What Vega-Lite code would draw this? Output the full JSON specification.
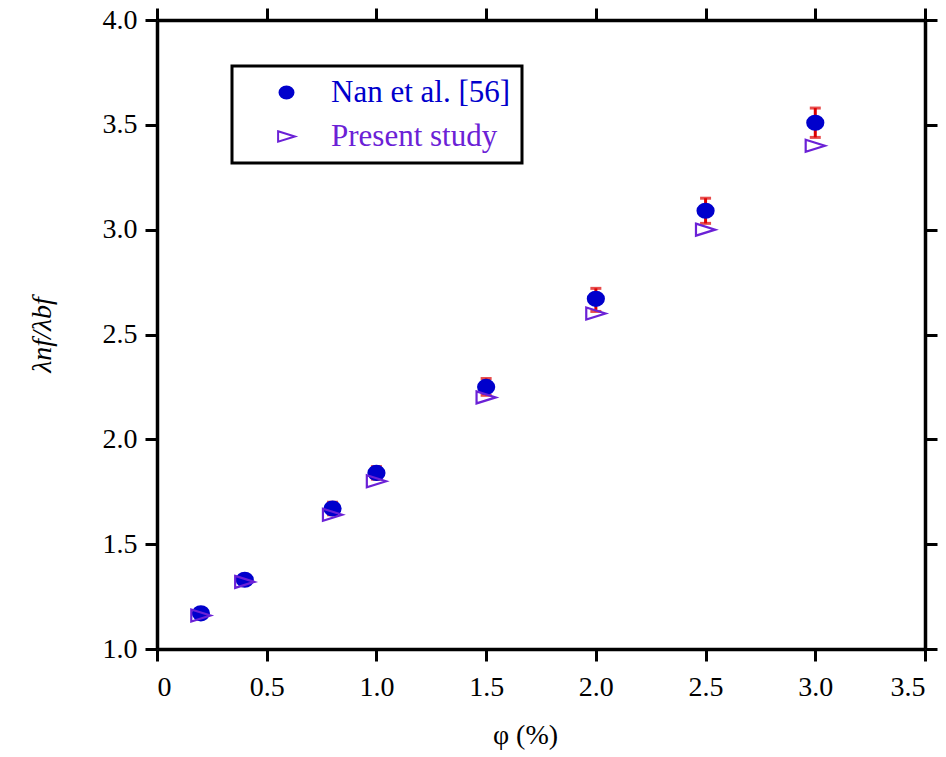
{
  "$schema": "https://vega.github.io/schema/vega-lite/v6.json",
  "autosize": {"type": "none"},
  "width": 768,
  "height": 629,
  "padding": {"left": 157, "top": 20, "right": 21, "bottom": 108},
  "background": "white",
  "data": {
    "values": [
      {"phi": 0.2, "value": 1.17, "lo": 1.15, "hi": 1.19, "series": "Nan et al. [56]"},
      {"phi": 0.4, "value": 1.33, "lo": 1.31, "hi": 1.35, "series": "Nan et al. [56]"},
      {"phi": 0.8, "value": 1.67, "lo": 1.64, "hi": 1.70, "series": "Nan et al. [56]"},
      {"phi": 1.0, "value": 1.84, "lo": 1.81, "hi": 1.87, "series": "Nan et al. [56]"},
      {"phi": 1.5, "value": 2.25, "lo": 2.21, "hi": 2.29, "series": "Nan et al. [56]"},
      {"phi": 2.0, "value": 2.67, "lo": 2.61, "hi": 2.72, "series": "Nan et al. [56]"},
      {"phi": 2.5, "value": 3.09, "lo": 3.03, "hi": 3.15, "series": "Nan et al. [56]"},
      {"phi": 3.0, "value": 3.51, "lo": 3.44, "hi": 3.58, "series": "Nan et al. [56]"},
      {"phi": 0.2, "value": 1.16, "series": "Present study"},
      {"phi": 0.4, "value": 1.32, "series": "Present study"},
      {"phi": 0.8, "value": 1.64, "series": "Present study"},
      {"phi": 1.0, "value": 1.80, "series": "Present study"},
      {"phi": 1.5, "value": 2.20, "series": "Present study"},
      {"phi": 2.0, "value": 2.60, "series": "Present study"},
      {"phi": 2.5, "value": 3.00, "series": "Present study"},
      {"phi": 3.0, "value": 3.40, "series": "Present study"}
    ]
  },
  "layer": [
    {
      "transform": [{"filter": "datum.series === 'Nan et al. [56]'"}],
      "mark": {"type": "rule", "color": "#dd0000", "strokeWidth": 3},
      "encoding": {
        "x": {"field": "phi", "type": "quantitative", "scale": {"domain": [0, 3.5], "nice": false, "zero": false},
              "axis": {"orient": "top", "labels": false, "title": null, "values": [0, 0.5, 1, 1.5, 2, 2.5, 3, 3.5]}},
        "y": {"field": "lo", "type": "quantitative", "scale": {"domain": [1, 4], "nice": false, "zero": false},
              "axis": {"orient": "right", "labels": false, "title": null, "values": [1, 1.5, 2, 2.5, 3, 3.5, 4]}},
        "y2": {"field": "hi"}
      }
    },
    {
      "transform": [{"filter": "datum.series === 'Nan et al. [56]'"}],
      "mark": {"type": "tick", "orient": "horizontal", "color": "#dd0000", "size": 11, "thickness": 3},
      "encoding": {
        "x": {"field": "phi", "type": "quantitative", "axis": null},
        "y": {"field": "lo", "type": "quantitative", "axis": null}
      }
    },
    {
      "transform": [{"filter": "datum.series === 'Nan et al. [56]'"}],
      "mark": {"type": "tick", "orient": "horizontal", "color": "#dd0000", "size": 11, "thickness": 3},
      "encoding": {
        "x": {"field": "phi", "type": "quantitative", "axis": null},
        "y": {"field": "hi", "type": "quantitative", "axis": null}
      }
    },
    {
      "mark": {"type": "point", "size": 256, "strokeWidth": 2.2, "opacity": 1, "filled": false},
      "encoding": {
        "x": {"field": "phi", "type": "quantitative",
              "axis": {"orient": "bottom", "title": "φ (%)", "values": [0, 0.5, 1, 1.5, 2, 2.5, 3, 3.5],
                       "labelExpr": "datum.value === 0 ? '0' : format(datum.value, '.1f')",
                       "labelPadding": 12, "titlePadding": 20, "titleX": 368}},
        "y": {"field": "value", "type": "quantitative",
              "axis": {"orient": "left", "title": "λnf/λbf", "values": [1, 1.5, 2, 2.5, 3, 3.5, 4],
                       "format": ".1f", "labelPadding": 8, "titlePadding": 46, "titleFontStyle": "italic"}},
        "shape": {"field": "series", "type": "nominal",
                  "scale": {"domain": ["Nan et al. [56]", "Present study"],
                            "range": ["M-1,0A1,0.87,0,1,0,1,0A1,0.87,0,1,0,-1,0Z", "M-1.2,-0.75L1.2,0L-1.2,0.75Z"]},
                  "legend": {
                    "title": null, "orient": "none", "legendX": 75, "legendY": 46,
                    "labelColor": {"expr": "datum.value === 'Nan et al. [56]' ? '#0000cc' : '#6b21d6'"}
                  }},
        "stroke": {"field": "series", "type": "nominal",
                   "scale": {"domain": ["Nan et al. [56]", "Present study"], "range": ["#0000cc", "#6b21d6"]}},
        "fill": {"field": "series", "type": "nominal",
                 "scale": {"domain": ["Nan et al. [56]", "Present study"], "range": ["#0000cc", "transparent"]}}
      }
    }
  ],
  "resolve": {"axis": {"x": "independent", "y": "independent"}},
  "config": {
    "view": {"stroke": null},
    "font": "Liberation Serif",
    "axis": {
      "grid": false,
      "domainColor": "black", "domainWidth": 3.5,
      "tickColor": "black", "tickWidth": 3, "tickSize": 12,
      "labelFont": "Liberation Serif", "labelFontSize": 28, "labelColor": "black",
      "titleFont": "Liberation Serif", "titleFontSize": 28, "titleColor": "black", "titleFontWeight": "normal"
    },
    "legend": {
      "strokeColor": "black", "strokeWidth": 3, "padding": 11, "symbolSize": 196,
      "symbolOffset": 28, "labelOffset": 29, "rowPadding": 12, "labelLimit": 400,
      "labelFont": "Liberation Serif", "labelFontSize": 31, "symbolStrokeWidth": 2
    }
  }
}
